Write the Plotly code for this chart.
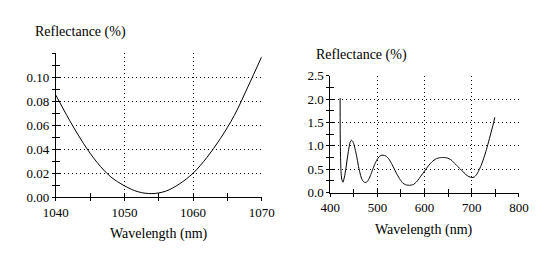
import plotly.graph_objects as go

# ---- data ----
wl_left = [1040, 1042, 1044, 1046, 1048, 1050, 1052, 1054, 1056, 1058, 1060, 1062, 1064, 1066, 1068, 1070]
refl_left = [0.085, 0.064, 0.045, 0.029, 0.017, 0.0095, 0.0045, 0.003, 0.005, 0.011, 0.020, 0.033, 0.049, 0.068, 0.092, 0.117]

wl_right = [420.9, 421.0, 421.8, 422.8, 424.5, 427, 430, 433, 436, 439, 442, 445, 448, 451, 454, 457, 460,
            463, 466, 469, 472, 475, 479, 483, 487, 491, 495, 499, 503, 507, 512, 518, 524, 530, 536, 542,
            548, 554, 560, 568, 576, 584, 592, 600, 608, 616, 624, 632, 640, 648, 656, 664, 672, 680, 688,
            694, 700, 705, 710, 715, 720, 725, 730, 735, 740, 745, 749]
refl_right = [2.02, 1.38, 0.75, 0.45, 0.28, 0.22, 0.33, 0.50, 0.72, 0.92, 1.07, 1.12, 1.09, 1.00, 0.87, 0.72, 0.55,
              0.42, 0.31, 0.25, 0.22, 0.215, 0.24, 0.31, 0.41, 0.52, 0.62, 0.70, 0.76, 0.79, 0.80, 0.78, 0.72, 0.62, 0.50, 0.38,
              0.28, 0.20, 0.165, 0.155, 0.17, 0.24, 0.35, 0.46, 0.57, 0.66, 0.72, 0.745, 0.75, 0.74, 0.70, 0.62, 0.54, 0.46, 0.38,
              0.34, 0.32, 0.33, 0.38, 0.47, 0.58, 0.72, 0.88, 1.06, 1.25, 1.44, 1.61]

left_yticks = [0.00, 0.02, 0.04, 0.06, 0.08, 0.10]
left_xticks = [1040, 1050, 1060, 1070]
right_yticks = [0.0, 0.5, 1.0, 1.5, 2.0, 2.5]
right_xticks = [400, 500, 600, 700, 800]

y_title = "Reflectance (%)"
x_title = "Wavelength (nm)"

FONT = "Liberation Serif"
TICKFONT = dict(family=FONT, size=13, color="black")
TITLEFONT = dict(family=FONT, size=14, color="black")

W, H = 550, 257
# pixel boxes of the two plot areas
L = dict(x0=45, x1=261, y0=49, y1=202)
R = dict(x0=333, x1=531, y0=73, y1=197)

def xd(b):
    return [b["x0"] / W, b["x1"] / W]

def yd(b):
    return [1 - b["y1"] / H, 1 - b["y0"] / H]

fig = go.Figure()
fig.add_trace(go.Scatter(x=wl_left, y=refl_left, mode="lines", line=dict(color="black", width=1, shape="spline"),
                         xaxis="x", yaxis="y", showlegend=False, hoverinfo="skip"))
fig.add_trace(go.Scatter(x=wl_right, y=refl_right, mode="lines", line=dict(color="black", width=1, shape="spline", smoothing=0.6),
                         xaxis="x2", yaxis="y2", showlegend=False, hoverinfo="skip"))
# invisible traces on the overlay axes that draw the inner half of the ticks
fig.add_trace(go.Scatter(x=[wl_left[0]], y=[refl_left[0]], mode="markers", marker=dict(opacity=0),
                         xaxis="x3", yaxis="y3", showlegend=False, hoverinfo="skip"))
fig.add_trace(go.Scatter(x=[wl_right[0]], y=[refl_right[0]], mode="markers", marker=dict(opacity=0),
                         xaxis="x4", yaxis="y4", showlegend=False, hoverinfo="skip"))

GRID = dict(showgrid=True, gridcolor="black", gridwidth=1, griddash="1px,3px")
AX = dict(showline=True, linecolor="black", linewidth=1, ticks="outside", ticklen=3, tickcolor="black",
          tickwidth=1, tickfont=TICKFONT, zeroline=False, fixedrange=True)
OV = dict(showline=False, ticks="inside", ticklen=4, tickcolor="black", tickwidth=1,
          showticklabels=False, showgrid=False, zeroline=False, fixedrange=True)

lx_range = [1040, 1070]
ly_range = [0, 0.12]
rx_range = [400, 800]
ry_range = [0, 2.5]

fig.update_layout(
    width=W, height=H, margin=dict(l=0, r=0, t=0, b=0),
    paper_bgcolor="white", plot_bgcolor="white",
    font=dict(family=FONT, color="black"),
    xaxis=dict(domain=xd(L), range=lx_range, anchor="y", tickvals=left_xticks,
               minor=dict(dtick=5, tick0=1040, ticks="outside", ticklen=3, tickcolor="black", showgrid=False),
               **GRID, **AX),
    yaxis=dict(domain=yd(L), range=ly_range, anchor="x", tickvals=left_yticks, tickformat=".2f",
               minor=dict(dtick=0.01, tick0=0, ticks="outside", ticklen=3, tickcolor="black", showgrid=False),
               **GRID, **AX),
    xaxis2=dict(domain=xd(R), range=rx_range, anchor="y2", tickvals=right_xticks,
                minor=dict(dtick=50, tick0=400, ticks="outside", ticklen=3, tickcolor="black", showgrid=False),
                **GRID, **AX),
    yaxis2=dict(domain=yd(R), range=ry_range, anchor="x2", tickvals=right_yticks, tickformat=".1f",
                minor=dict(dtick=0.25, tick0=0, ticks="outside", ticklen=3, tickcolor="black", showgrid=False),
                **GRID, **AX),
    xaxis3=dict(domain=xd(L), range=lx_range, anchor="y3", overlaying="x", dtick=5, tick0=1040, **OV),
    yaxis3=dict(domain=yd(L), range=ly_range, anchor="x3", overlaying="y", dtick=0.01, tick0=0, **OV),
    xaxis4=dict(domain=xd(R), range=rx_range, anchor="y4", overlaying="x2", dtick=50, tick0=400, **OV),
    yaxis4=dict(domain=yd(R), range=ry_range, anchor="x4", overlaying="y2", dtick=0.25, tick0=0, **OV),
    annotations=[
        dict(text=y_title, xref="paper", yref="paper", x=21 / W, y=1 - 27 / H, xanchor="left", yanchor="middle",
             showarrow=False, font=TITLEFONT),
        dict(text=y_title, xref="paper", yref="paper", x=316 / W, y=1 - 51 / H, xanchor="left", yanchor="middle",
             showarrow=False, font=TITLEFONT),
        dict(text=x_title, xref="paper", yref="paper", x=153 / W, y=1 - 241 / H, xanchor="center", yanchor="middle",
             showarrow=False, font=TITLEFONT),
        dict(text=x_title, xref="paper", yref="paper", x=431 / W, y=1 - 237 / H, xanchor="center", yanchor="middle",
             showarrow=False, font=TITLEFONT),
    ],
)

fig.write_html("out.html")
